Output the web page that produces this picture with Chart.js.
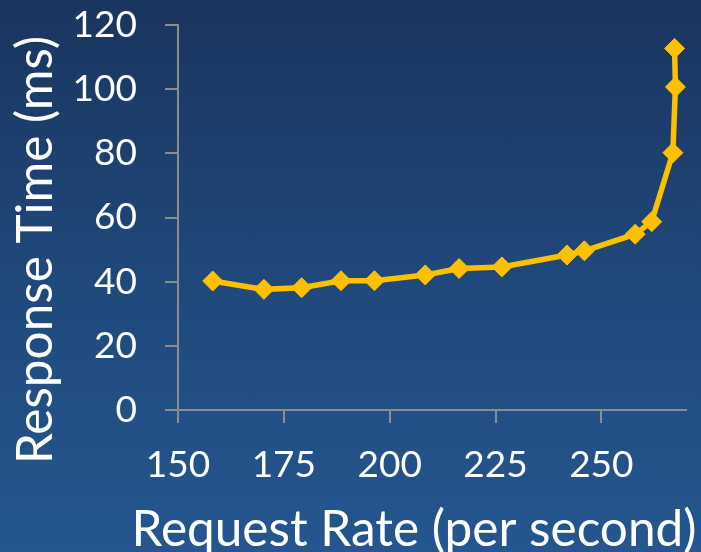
<!DOCTYPE html>
<html>
<head>
<meta charset="utf-8">
<script src="https://cdn.jsdelivr.net/npm/chart.js@4.4.0/dist/chart.umd.min.js"></script>
<style>
  html, body { margin: 0; padding: 0; }
  body { width: 701px; height: 552px; overflow: hidden;
         background: linear-gradient(to bottom, #1a355f 0%, #204a7d 55%, #25568f 100%); }
  #wrap { position: relative; width: 701px; height: 552px; }
</style>
</head>
<body>
<div id="wrap"><canvas id="chart" width="701" height="552"></canvas></div>
<script>
// values
const requestRate  = [158.2, 170.3, 179.2, 188.5, 196.4, 208.4, 216.4, 226.5, 241.9, 246.0, 258.0, 261.9, 266.9, 267.5, 267.3]
const responseTime = [40.2, 37.6, 38.1, 40.3, 40.3, 42.1, 44.1, 44.6, 48.3, 49.6, 54.8, 58.7, 80.2, 100.7, 112.7]
const xTitle = 'Request Rate (per second)'
const yTitle = 'Response Time (ms)'

const gold = '#ffc000'
const axisGray = '#8c8c8c'
const fontFamily = 'Lato, "Open Sans", sans-serif'

// axis titles drawn by hand so they can sit off-centre like the original
const axisTitles = {
  id: 'axisTitles',
  afterDraw(chart) {
    const ctx = chart.ctx
    ctx.save()
    ctx.fillStyle = '#ffffff'
    ctx.font = '49.5px ' + fontFamily
    ctx.textAlign = 'center'
    ctx.textBaseline = 'alphabetic'
    ctx.fillText(xTitle, 414, 546)
    ctx.translate(52, 250)
    ctx.rotate(-Math.PI / 2)
    ctx.fillText(yTitle, 0, 0)
    ctx.restore()
  }
}

const points = requestRate.map((x, i) => ({ x: x, y: responseTime[i] }))

new Chart(document.getElementById('chart'), {
  type: 'scatter',
  data: {
    datasets: [{
      label: 'Response Time',
      data: points,
      showLine: true,
      borderColor: gold,
      backgroundColor: gold,
      borderWidth: 5.5,
      pointStyle: 'rectRot',
      pointRadius: 10,
      pointBorderWidth: 1,
      pointBorderColor: gold,
      pointBackgroundColor: gold
    }]
  },
  options: {
    responsive: false,
    animation: false,
    layout: { padding: { top: 25, right: 15, left: 0, bottom: 0 } },
    plugins: { legend: { display: false }, tooltip: { enabled: false } },
    scales: {
      x: {
        type: 'linear',
        min: 150, max: 270,
        afterFit(scale) { scale.height = 142 },
        border: { color: axisGray, width: 2 },
        grid: { drawOnChartArea: false, drawTicks: true, tickLength: 13, color: axisGray, lineWidth: 2 },
        ticks: { stepSize: 25, includeBounds: false, color: '#ffffff', padding: 20,
                 font: { family: fontFamily, size: 37 } }
      },
      y: {
        min: 0, max: 120,
        afterFit(scale) {
          scale.width = 178
          // tick padding would otherwise push the plot top down
          scale.paddingTop = 0
          scale.paddingBottom = 0
        },
        border: { color: axisGray, width: 2 },
        grid: { drawOnChartArea: false, drawTicks: true, tickLength: 13, color: axisGray, lineWidth: 2 },
        ticks: { stepSize: 20, color: '#ffffff', padding: 28,
                 font: { family: fontFamily, size: 37 } }
      }
    }
  },
  plugins: [axisTitles]
})
</script>
</body>
</html>
